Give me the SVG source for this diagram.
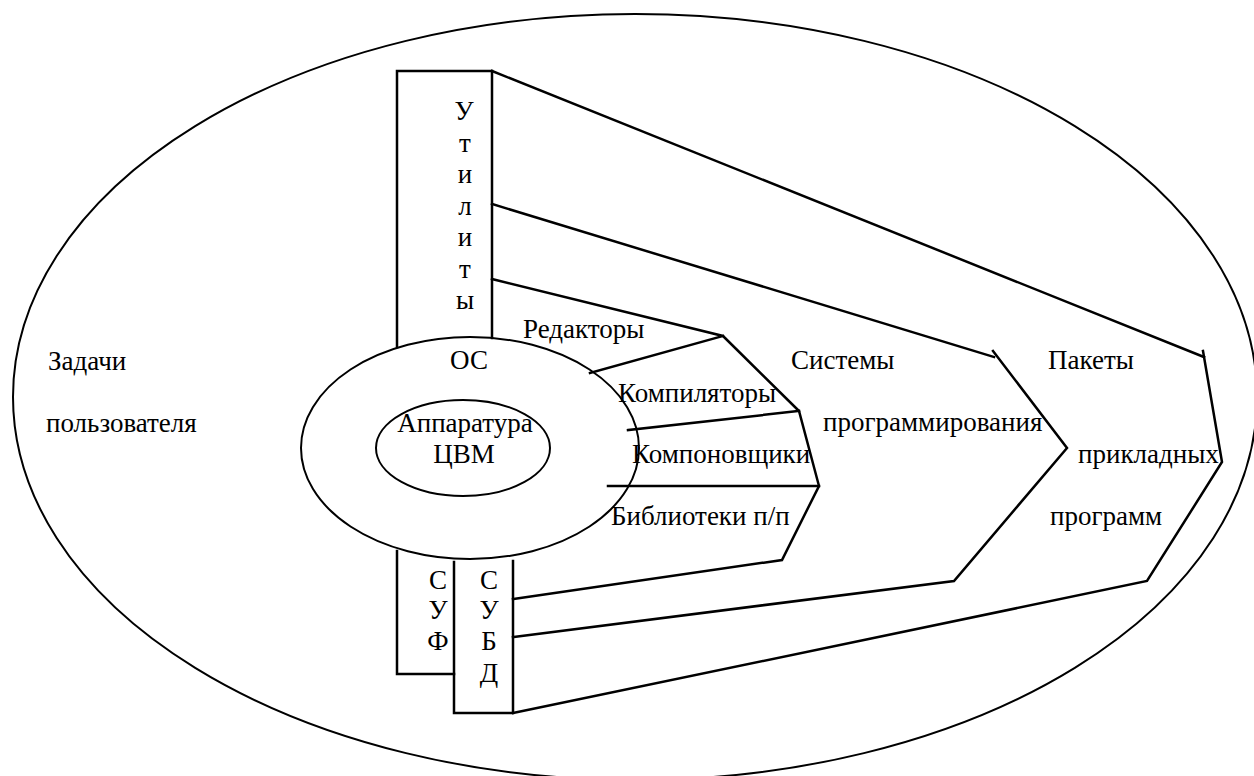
<svg xmlns="http://www.w3.org/2000/svg" width="1254" height="776" viewBox="0 0 1254 776" font-family="'Liberation Serif', 'DejaVu Serif', serif">
<style>
text{font-family:"Liberation Serif","DejaVu Serif",serif;font-size:27px;fill:#000}
.m{text-anchor:middle}
.e{fill:none;stroke:#000;stroke-width:2}
.l{fill:none;stroke:#000;stroke-width:2.5;stroke-linejoin:miter;stroke-linecap:square}
</style>
<rect width="1254" height="776" fill="#fff"/>
<g id="user-tasks">
<ellipse class="e" cx="635" cy="397" rx="622" ry="383"/>
<text x="48" y="370">Задачи</text>
<text x="46" y="432">пользователя</text>
</g>
<g id="os">
<ellipse class="e" cx="470" cy="448" rx="169" ry="111"/>
<text class="m" x="469" y="369">ОС</text>
</g>
<g id="hardware">
<ellipse class="e" cx="463" cy="448" rx="87" ry="48"/>
<text class="m" x="465" y="432">Аппаратура</text>
<text class="m" x="464" y="463">ЦВМ</text>
</g>
<g id="utilities">
<polyline class="l" points="397,347 397,71 492,71 492,338"/>
<text class="m" x="464" y="120">У</text>
<text class="m" x="465" y="152">т</text>
<text class="m" x="465" y="183">и</text>
<text class="m" x="465" y="215">л</text>
<text class="m" x="465" y="246">и</text>
<text class="m" x="465" y="278">т</text>
<text class="m" x="465" y="309">ы</text>
</g>
<g id="suf">
<polyline class="l" points="397,551 397,674 454,674"/>
<text class="m" x="438" y="589">С</text>
<text class="m" x="438" y="619">У</text>
<text class="m" x="438" y="650">Ф</text>
</g>
<g id="subd">
<polyline class="l" points="454,562 454,713 513,713 513,561"/>
<text class="m" x="489" y="589">С</text>
<text class="m" x="489" y="619">У</text>
<text class="m" x="489" y="650">Б</text>
<text class="m" x="489" y="682">Д</text>
</g>
<g id="editors"><text x="523" y="338">Редакторы</text></g>
<g id="compilers"><text x="618" y="402">Компиляторы</text></g>
<g id="linkers"><text x="632" y="463">Компоновщики</text></g>
<g id="libraries"><text x="611" y="525">Библиотеки п/п</text></g>
<g id="prog-systems">
<text x="791" y="369">Системы</text>
<text x="823" y="431">программирования</text>
</g>
<g id="app-packages">
<text x="1048" y="369">Пакеты</text>
<text x="1078" y="463">прикладных</text>
<text x="1050" y="525">программ</text>
</g>
<g id="connectors">
<polyline class="l" points="492,279 723,336 799,411 819,486 782,560 513,599"/>
<line class="l" x1="590" y1="373" x2="723" y2="336"/>
<line class="l" x1="628" y1="430" x2="799" y2="411"/>
<line class="l" x1="608" y1="486" x2="819" y2="486"/>
<polyline class="l" points="492,204 994,357"/>
<polyline class="l" points="993,351 1067,448 954,581 513,637"/>
<polyline class="l" points="492,71 1204,357"/>
<polyline class="l" points="1203,351 1222,462 1147,581 513,713"/>
</g>
</svg>
